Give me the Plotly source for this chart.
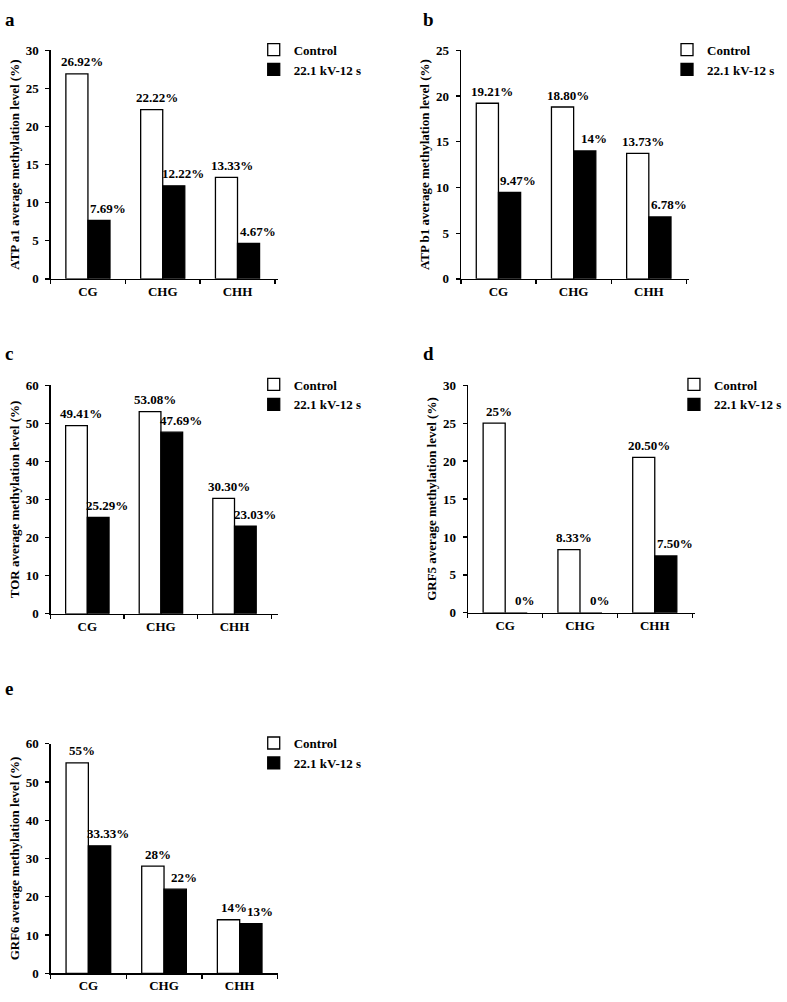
import plotly.graph_objects as go

# ---------------- data ----------------
categories = ["CG", "CHG", "CHH"]
series_names = ["Control", "22.1 kV-12 s"]

a_control = [26.92, 22.22, 13.33]
a_treated = [7.69, 12.22, 4.67]
a_control_labels = ["26.92%", "22.22%", "13.33%"]
a_treated_labels = ["7.69%", "12.22%", "4.67%"]
a_ytitle = "ATP a1 average methylation level (%)"
a_yticks = [0, 5, 10, 15, 20, 25, 30]

b_control = [19.21, 18.80, 13.73]
b_treated = [9.47, 14, 6.78]
b_control_labels = ["19.21%", "18.80%", "13.73%"]
b_treated_labels = ["9.47%", "14%", "6.78%"]
b_ytitle = "ATP b1 average methylation level (%)"
b_yticks = [0, 5, 10, 15, 20, 25]

c_control = [49.41, 53.08, 30.30]
c_treated = [25.29, 47.69, 23.03]
c_control_labels = ["49.41%", "53.08%", "30.30%"]
c_treated_labels = ["25.29%", "47.69%", "23.03%"]
c_ytitle = "TOR average methylation level (%)"
c_yticks = [0, 10, 20, 30, 40, 50, 60]

d_control = [25, 8.33, 20.50]
d_treated = [0, 0, 7.50]
d_control_labels = ["25%", "8.33%", "20.50%"]
d_treated_labels = ["0%", "0%", "7.50%"]
d_ytitle = "GRF5 average methylation level (%)"
d_yticks = [0, 5, 10, 15, 20, 25, 30]

e_control = [55, 28, 14]
e_treated = [33.33, 22, 13]
e_control_labels = ["55%", "28%", "14%"]
e_treated_labels = ["33.33%", "22%", "13%"]
e_ytitle = "GRF6 average methylation level (%)"
e_yticks = [0, 10, 20, 30, 40, 50, 60]

panel_letters = ["a", "b", "c", "d", "e"]

# ---------------- layout geometry (pixels) ----------------
W, H = 787, 1002
FONT = "Times New Roman, Liberation Serif, serif"

panels = [
    dict(letter="a", ctrl=a_control, trt=a_treated, cl=a_control_labels, tl=a_treated_labels,
         ytitle=a_ytitle, yticks=a_yticks, box=(51, 280, 44, 276), lx=296, ly=49, letter_xy=(3, 13)),
    dict(letter="b", ctrl=b_control, trt=b_treated, cl=b_control_labels, tl=b_treated_labels,
         ytitle=b_ytitle, yticks=b_yticks, box=(465, 695, 44, 276), lx=713, ly=49, letter_xy=(425, 13)),
    dict(letter="c", ctrl=c_control, trt=c_treated, cl=c_control_labels, tl=c_treated_labels,
         ytitle=c_ytitle, yticks=c_yticks, box=(51, 280, 384, 616), lx=296, ly=389, letter_xy=(3, 352)),
    dict(letter="d", ctrl=d_control, trt=d_treated, cl=d_control_labels, tl=d_treated_labels,
         ytitle=d_ytitle, yticks=d_yticks, box=(472, 701, 384, 615), lx=720, ly=389, letter_xy=(425, 352)),
    dict(letter="e", ctrl=e_control, trt=e_treated, cl=e_control_labels, tl=e_treated_labels,
         ytitle=e_ytitle, yticks=e_yticks, box=(51, 280, 748, 981), lx=296, ly=753, letter_xy=(3, 692)),
]

fig = go.Figure()
annotations = []
layout_upd = {}

for i, p in enumerate(panels):
    n = i + 1
    xa = "x" if n == 1 else f"x{n}"
    ya = "y" if n == 1 else f"y{n}"
    xkey = "xaxis" if n == 1 else f"xaxis{n}"
    ykey = "yaxis" if n == 1 else f"yaxis{n}"
    lkey = "legend" if n == 1 else f"legend{n}"
    x0, x1, y0, y1 = p["box"]

    fig.add_trace(go.Bar(
        x=categories, y=p["ctrl"], name=series_names[0],
        marker=dict(color="white", line=dict(color="black", width=1.3)),
        xaxis=xa, yaxis=ya, legend=lkey, hoverinfo="skip"))
    fig.add_trace(go.Bar(
        x=categories, y=p["trt"], name=series_names[1],
        marker=dict(color="black", line=dict(color="black", width=1.3)),
        xaxis=xa, yaxis=ya, legend=lkey, hoverinfo="skip"))

    layout_upd[xkey] = dict(
        domain=[x0 / W, x1 / W], anchor=ya, type="category",
        showline=True, linecolor="black", linewidth=1.3,
        ticks="outside", tickson="boundaries", ticklen=4, tickcolor="black", tickwidth=1.3,
        showgrid=False, zeroline=False, fixedrange=True,
        tickfont=dict(family=FONT, size=13, color="black", weight="bold"),
    )
    layout_upd[ykey] = dict(
        domain=[1 - y1 / H, 1 - y0 / H], anchor=xa,
        range=[0, max(p["yticks"])], tickvals=p["yticks"],
        showline=True, linecolor="black", linewidth=1.3,
        ticks="outside", ticklen=4, tickcolor="black", tickwidth=1.3,
        ticklabelstandoff=4,
        showgrid=False, zeroline=False, fixedrange=True,
        tickfont=dict(family=FONT, size=13, color="black", weight="bold"),
        title=dict(text=p["ytitle"], standoff=3,
                   font=dict(family=FONT, size=13, color="black", weight="bold")),
    )
    layout_upd[lkey] = dict(
        x=(p["lx"] - 40) / W, xanchor="left",
        y=1 - (p["ly"] - 21) / H, yanchor="top",
        bgcolor="rgba(0,0,0,0)", borderwidth=0,
        font=dict(family=FONT, size=13, color="black", weight="bold"),
        itemwidth=30, tracegroupgap=0, traceorder="normal",
        itemclick=False, itemdoubleclick=False,
    )

    # value labels above bars
    for cat, v, lab in zip(categories, p["ctrl"], p["cl"]):
        annotations.append(dict(
            x=cat, y=v, xref=xa, yref=ya, text=lab, showarrow=False,
            xshift=-6, yshift=12, yanchor="middle", xanchor="center",
            font=dict(family=FONT, size=13, color="black", weight="bold")))
    for cat, v, lab in zip(categories, p["trt"], p["tl"]):
        annotations.append(dict(
            x=cat, y=v, xref=xa, yref=ya, text=lab, showarrow=False,
            xshift=20, yshift=12, yanchor="middle", xanchor="center",
            font=dict(family=FONT, size=13, color="black", weight="bold")))

    # panel letter
    lx, ly = p["letter_xy"]
    annotations.append(dict(
        x=lx / W, y=1 - ly / H, xref="paper", yref="paper", text=p["letter"],
        showarrow=False, xanchor="left", yanchor="middle",
        font=dict(family=FONT, size=19, color="black", weight="bold")))

fig.update_layout(
    width=W, height=H,
    margin=dict(l=0, r=0, t=0, b=0),
    paper_bgcolor="white", plot_bgcolor="white",
    barmode="group", bargap=0.41, bargroupgap=0,
    font=dict(family=FONT, color="black"),
    annotations=annotations,
    showlegend=True,
    **layout_upd,
)

fig.write_html("out.html", post_script="document.body.style.margin='0';",
               config={"displayModeBar": False, "staticPlot": True})
